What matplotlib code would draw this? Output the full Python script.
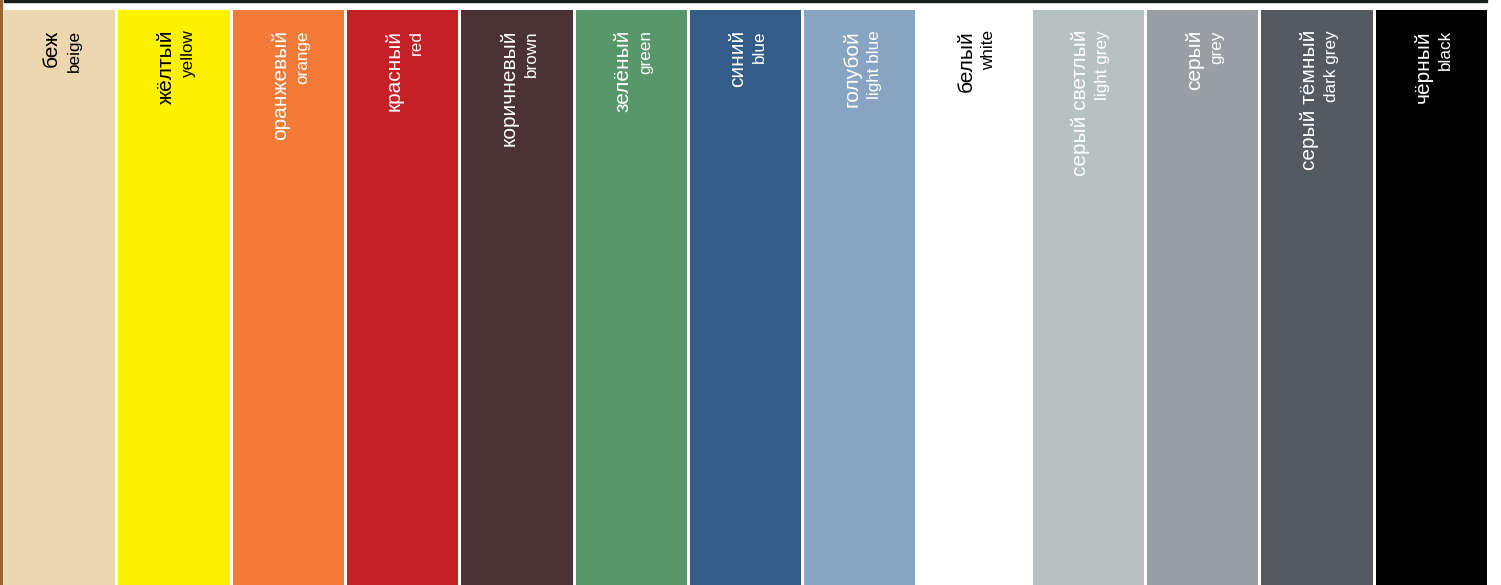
import numpy as np
import matplotlib.pyplot as plt
from matplotlib.patches import Rectangle

# colour chart data
names_ru = ['беж', 'жёлтый', 'оранжевый', 'красный', 'коричневый', 'зелёный',
            'синий', 'голубой', 'белый', 'серый светлый', 'серый',
            'серый тёмный', 'чёрный']
names_en = ['beige', 'yellow', 'orange', 'red', 'brown', 'green', 'blue',
            'light blue', 'white', 'light grey', 'grey', 'dark grey', 'black']
swatch_colors = ['#EDD7B1', '#FFF200', '#F47A38', '#C52026', '#4A3235',
                 '#57976A', '#325D88', '#87A5C3', '#FFFFFF', '#B6C1C2',
                 '#9A9FA3', '#535A62', '#000000']
text_colors = ['black', 'black', 'white', 'white', 'white', 'white', 'white',
               'white', 'black', 'white', 'white', 'white', 'white']

W, H = 1501, 585
fig = plt.figure(figsize=(W / 100, H / 100), dpi=100)
fig.patch.set_facecolor('white')

# axes spans the swatches: x 2.5..1488.5 px, y 10..585 px from top
ax = fig.add_axes([2.5 / W, 0, 1486 / W, 575 / H])
x = np.arange(len(names_ru))
ax.bar(x, 1, width=0.974, color=swatch_colors, linewidth=0)
ax.set_xlim(-0.5, len(names_ru) - 0.5)
ax.set_ylim(0, 1)
ax.axis('off')

# labels, read bottom-to-top and hanging from the top
y_top = 1 - 20 / 575
for i in x:
    ax.text(i - 0.07, y_top, names_ru[i], rotation=90, ha='center', va='top',
            fontsize=15, family='Liberation Sans', color=text_colors[i])
    ax.text(i + 0.125, y_top, names_en[i], rotation=90, ha='center', va='top',
            fontsize=12.3, family='Liberation Sans', color=text_colors[i])

# bits of neighbouring images at the edges
fig.patches.append(Rectangle((4 / W, 1 - 1.5 / H), 1483 / W, 1.5 / H,
                             transform=fig.transFigure, color='#15201a',
                             zorder=5))
fig.patches.append(Rectangle((0, 0), 1.5 / W, 1, transform=fig.transFigure,
                             color='#9A6330', zorder=5))

fig.savefig('out.png', dpi=100)
plt.close(fig)
